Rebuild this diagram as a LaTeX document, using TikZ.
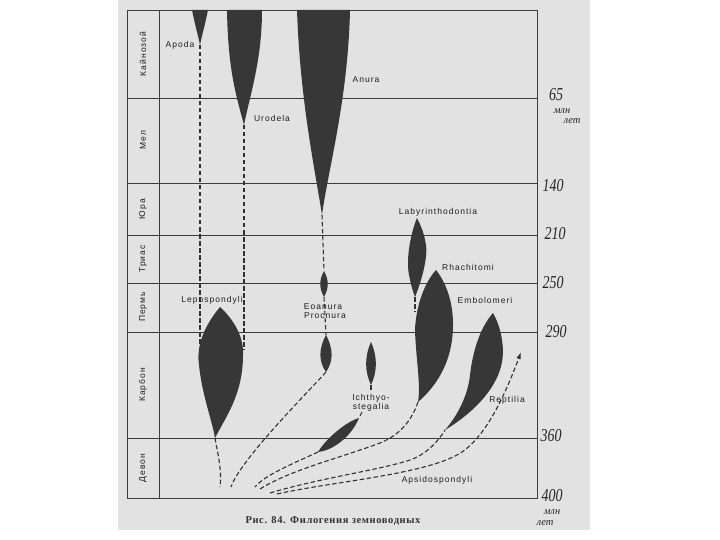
\documentclass[tikz,border=0pt]{standalone}
\usepackage{fontspec}
\setmainfont{Liberation Serif}
\newfontfamily\labfont[LetterSpace=12]{Liberation Sans}
\newfontfamily\capfont[LetterSpace=6]{Liberation Serif}
\usetikzlibrary{arrows.meta}
\definecolor{pagec}{RGB}{226,226,226}
\definecolor{framec}{RGB}{60,60,60}
\definecolor{shapec}{RGB}{55,55,55}
\definecolor{linec}{RGB}{50,50,50}
\definecolor{textc}{RGB}{30,30,30}
\begin{document}
\begin{tikzpicture}[x=1pt,y=-1pt,
  frame/.style={draw=framec, line width=0.9pt},
  taxon/.style={fill=shapec, draw=none},
  link/.style={draw=linec, line width=1.1pt, dash pattern=on 4.5pt off 2.5pt},
  lab/.style={font=\labfont\fontsize{8.5}{9.5}\selectfont, text=textc, inner sep=0pt},
  era/.style={lab, rotate=90},
  hand/.style={font=\itshape\fontsize{14}{15}\selectfont, text=black!85, inner sep=0pt},
  handsmall/.style={font=\itshape\fontsize{10.5}{11}\selectfont, text=black!85, inner sep=0pt},
]
\useasboundingbox (0,0) rectangle (720,540);
\fill[white] (0,0) rectangle (720,540);
\fill[pagec] (118,0) rectangle (590,530);

% frame and period grid
\draw[frame] (127,10) rectangle (537,498);
\draw[frame] (159,10) -- (159,498);
\foreach \yy in {98,183,235,283,332,438}
  \draw[frame] (127,\yy) -- (537,\yy);

% period names
\node[era] (kz) at (143,54) {Кайнозой};
\node[era] (mel) at (143,140) {Мел};
\node[era] (jur) at (143,209) {Юра};
\node[era] (tri) at (143,259) {Триас};
\node[era] (perm) at (143,307) {Пермь};
\node[era] (karb) at (143,385) {Карбон};
\node[era] (dev) at (143,468) {Девон};

% key points
\coordinate (apodaT) at (200,45);
\coordinate (apodaL) at (200,345);
\coordinate (urodT) at (244,125);
\coordinate (urodL) at (244,350);
\coordinate (anuraT) at (322,215);
\coordinate (eoTop) at (324,271);
\coordinate (eoBot) at (324,297);
\coordinate (proTop) at (326,335);
\coordinate (proBot) at (326,372);
\coordinate (proRoot) at (231,487);
\coordinate (lepoT) at (215,438);
\coordinate (lepoRoot) at (220,487);
\coordinate (ichTop) at (371,342);
\coordinate (ichBot) at (371,385);
\coordinate (ichEnd) at (371,392);
\coordinate (leafTop) at (359,418);
\coordinate (leafBot) at (318,452);
\coordinate (labelDash) at (362,412);
\coordinate (leafRoot) at (255,487);
\coordinate (labyBot) at (415,297);
\coordinate (labyEnd) at (415,312);
\coordinate (rhaBot) at (418,402);
\coordinate (rhaRoot) at (260,489);
\coordinate (embBot) at (445,430);
\coordinate (embRoot) at (270,493);
\coordinate (repRoot) at (277,494);
\coordinate (repTip) at (521,352);

% taxa shapes
\path[taxon] (192,10) .. controls (195,25) and (198,35) .. (apodaT) .. controls (202,35) and (205,25) .. (208,10) -- cycle;
\path[taxon] (227,10) .. controls (228,70) and (236,95) .. (urodT) .. controls (250,95) and (262,60) .. (262,10) -- cycle;
\path[taxon] (297,10) .. controls (300,100) and (315,170) .. (anuraT) .. controls (328,170) and (348,100) .. (350,10) -- cycle;
\path[taxon] (eoTop) .. controls (319,280) and (319,288) .. (eoBot) .. controls (329,288) and (329,280) .. (eoTop);
\path[taxon] (proTop) .. controls (318,350) and (319,362) .. (proBot) .. controls (333,362) and (334,350) .. (proTop);
\path[taxon] (220,307) .. controls (205,325) and (196,345) .. (199,365) .. controls (202,395) and (212,420) .. (lepoT)
   .. controls (225,418) and (243,395) .. (243,355) .. controls (244,335) and (232,318) .. (220,307);
\path[taxon] (ichTop) .. controls (364,358) and (365,372) .. (ichBot) .. controls (377,372) and (378,358) .. (ichTop);
\path[taxon] (leafTop) .. controls (345,422) and (325,440) .. (leafBot) .. controls (335,450) and (352,435) .. (leafTop);
\path[taxon] (417,218) .. controls (410,235) and (406,260) .. (409,275) .. controls (411,285) and (413,292) .. (labyBot)
   .. controls (420,285) and (428,260) .. (426,245) .. controls (424,232) and (420,224) .. (417,218);
\path[taxon] (436,270) .. controls (448,285) and (456,310) .. (452,340) .. controls (448,370) and (432,390) .. (rhaBot)
   .. controls (421,385) and (416,360) .. (415,330) .. controls (416,305) and (425,282) .. (436,270);
\path[taxon] (493,313) .. controls (500,325) and (505,345) .. (502,362) .. controls (498,385) and (478,410) .. (embBot)
   .. controls (458,415) and (468,395) .. (470,375) .. controls (473,350) and (480,328) .. (493,313);

% dashed lineages
\draw[link] (apodaT) -- (apodaL);
\draw[link] (urodT) -- (urodL);
\draw[link] (anuraT) -- (eoTop);
\draw[link] (eoBot) -- (proTop);
\draw[link] (proBot) .. controls (310,390) and (240,460) .. (proRoot);
\draw[link] (lepoT) .. controls (218,455) and (222,470) .. (lepoRoot);
\draw[link] (ichBot) -- (ichEnd);
\draw[link] (labelDash) -- (leafTop);
\draw[link] (leafBot) .. controls (290,465) and (265,475) .. (leafRoot);
\draw[link] (labyBot) -- (labyEnd);
\draw[link] (rhaRoot) .. controls (290,470) and (340,458) .. (380,443) .. controls (400,435) and (412,420) .. (rhaBot);
\draw[link] (embRoot) .. controls (320,478) and (380,470) .. (410,460) .. controls (425,455) and (438,442) .. (embBot);
\draw[link, -{Latex[length=7pt,width=4.5pt]}] (repRoot) .. controls (330,482) and (420,475) .. (457,455) .. controls (485,440) and (505,395) .. (repTip);

% taxon labels
\node[lab] (lApoda) at (180,45) {Apoda};
\node[lab] (lUrod) at (272,118) {Urodela};
\node[lab] (lAnura) at (366,80) {Anura};
\node[lab] (lLepo) at (212,300) {Lepospondyli};
\node[lab] (lEo) at (323,307) {Eoanura};
\node[lab] (lPro) at (325,316) {Procnura};
\node[lab] (lLaby) at (438,212) {Labyrinthodontia};
\node[lab] (lRha) at (468,267) {Rhachitomi};
\node[lab] (lEmb) at (485,300) {Embolomeri};
\node[lab] (lIch1) at (371,398) {Ichthyo-};
\node[lab] (lIch2) at (371,407) {stegalia};
\node[lab] (lRep) at (507,400) {Reptilia};
\node[lab] (lAps) at (437,480) {Apsidospondyli};

% handwritten ages
\node[hand] (a65) at (556,95) {\scalebox{1}[1.3]{65}};
\node[handsmall] (m65) at (562,111) {млн};
\node[handsmall] (l65) at (572,121) {лет};
\node[hand] (a140) at (553,186) {\scalebox{1}[1.3]{140}};
\node[hand] (a210) at (555,234) {\scalebox{1}[1.3]{210}};
\node[hand] (a250) at (553,283) {\scalebox{1}[1.3]{250}};
\node[hand] (a290) at (556,332) {\scalebox{1}[1.3]{290}};
\node[hand] (a360) at (551,436) {\scalebox{1}[1.3]{360}};
\node[hand] (a400) at (552,496) {\scalebox{1}[1.3]{400}};
\node[handsmall] (m400) at (552,512) {млн};
\node[handsmall] (l400) at (545,523) {лет};

% caption
\node[font=\capfont\bfseries\fontsize{10.5}{12}\selectfont, text=black!80, inner sep=0pt] (cap) at (333,521) {Рис. 84. Филогения земноводных};
\end{tikzpicture}
\end{document}
